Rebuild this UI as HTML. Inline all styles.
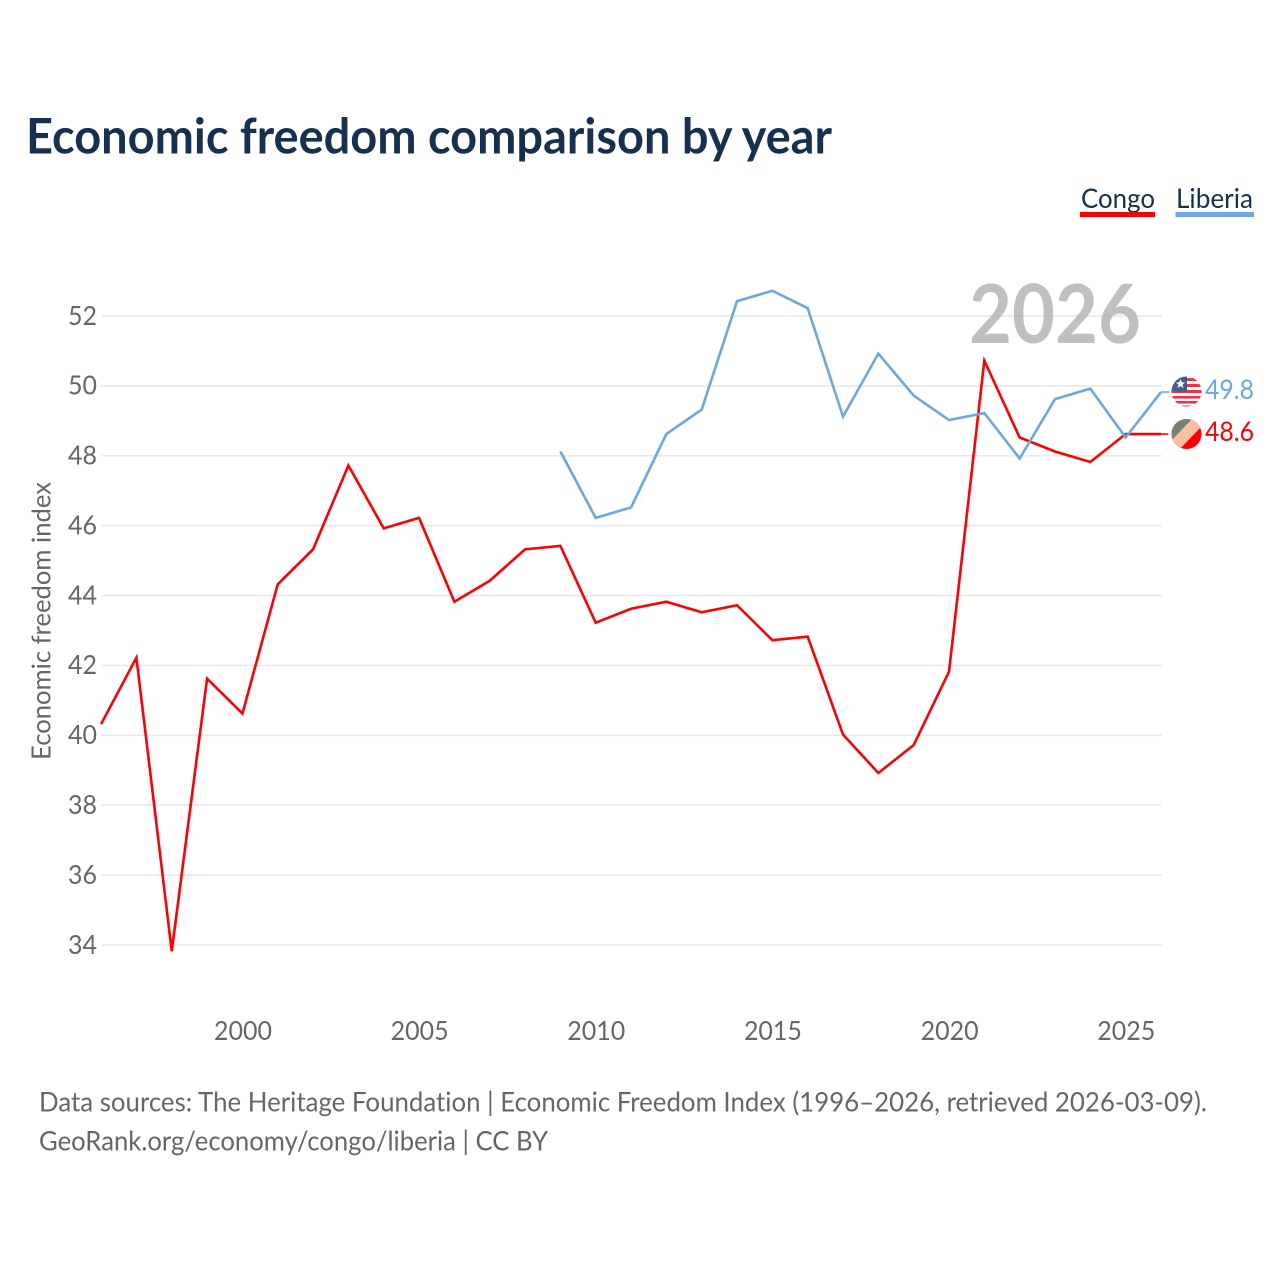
<!DOCTYPE html>
<html lang="en">
<head>
<meta charset="utf-8">
<title>Economic freedom comparison by year</title>
<style>
html,body{margin:0;padding:0;background:#fff;width:1280px;height:1280px;overflow:hidden}
svg{display:block}
text{font-family:Lato,Carlito,"Liberation Sans",sans-serif;font-variant-ligatures:none}
</style>
</head>
<body>
<svg id="chart" xmlns="http://www.w3.org/2000/svg" width="1280" height="1280" viewBox="0 0 1280 1280">
  <defs>
    <clipPath id="flag-liberia-clip"><circle cx="1186.5" cy="391.5" r="15"/></clipPath>
    <clipPath id="flag-congo-clip"><circle cx="1186.5" cy="434" r="15"/></clipPath>
  </defs>
  <text x="26" y="153.5" font-size="49" font-weight="700" fill="#18304f" textLength="806" lengthAdjust="spacingAndGlyphs">Economic freedom comparison by year</text>
  <g>
    <g>
      <text x="1081" y="208" font-size="27" fill="#18304f" textLength="74" lengthAdjust="spacingAndGlyphs">Congo</text>
      <rect x="1080" y="212" width="75" height="5" fill="#ff0000"/>
    </g>
    <g>
      <text x="1176" y="208" font-size="27" fill="#18304f" textLength="77" lengthAdjust="spacingAndGlyphs">Liberia</text>
      <rect x="1175.5" y="212" width="78.5" height="5" fill="#6fa8e8"/>
    </g>
  </g>
  <g id="grid"></g>
  <g id="yticks"></g>
  <g id="xticks"></g>
  <text transform="translate(50.5,760) rotate(-90)" x="0" y="0" font-size="26.5" fill="#666666" textLength="278" lengthAdjust="spacingAndGlyphs">Economic freedom index</text>
  <text x="969" y="343" font-size="81" font-weight="700" fill="#a6a8a8" fill-opacity="0.72" textLength="172" lengthAdjust="spacingAndGlyphs">2026</text>
  <g id="series" transform="translate(-0.6,-0.8)"></g>
  <g clip-path="url(#flag-liberia-clip)">
    <rect x="1171" y="376" width="31" height="31" fill="#ffffff"/>
    <rect x="1171" y="378" width="31" height="3" fill="#ef3340"/>
    <rect x="1171" y="384" width="31" height="3" fill="#ef3340"/>
    <rect x="1171" y="390" width="31" height="3" fill="#ef3340"/>
    <rect x="1171" y="396" width="31" height="2.6" fill="#ef3340"/>
    <rect x="1171" y="401" width="31" height="2.6" fill="#ef3340"/>
    <rect x="1171" y="405.5" width="31" height="2" fill="#ef3340"/>
    <rect x="1171" y="376" width="16" height="15.5" fill="#3f5f8f"/>
    <polygon points="1180.5,379 1181.8,382.4 1185.2,382.4 1182.5,384.6 1183.5,388 1180.5,386 1177.5,388 1178.5,384.6 1175.8,382.4 1179.2,382.4" fill="#ffffff"/>
  </g>
  <g clip-path="url(#flag-congo-clip)">
    <rect x="1171" y="418" width="31" height="32" fill="#ff0000"/>
    <polygon points="1171,418 1202,418 1202,426 1179,450 1171,450" fill="#fdbfa3"/>
    <polygon points="1171,418 1193,418 1171,441" fill="#7b8073"/>
  </g>
  <g id="endlabels"></g>
  <g>
    <text x="39" y="1111.5" font-size="27" fill="#666666" textLength="1168" lengthAdjust="spacingAndGlyphs">Data sources: The Heritage Foundation | Economic Freedom Index (1996–2026, retrieved 2026-03-09).</text>
    <text x="39" y="1150.5" font-size="27" fill="#666666" textLength="509" lengthAdjust="spacingAndGlyphs">GeoRank.org/economy/congo/liberia | CC BY</text>
  </g>
</svg>
<script>
const congoYears = [1996,1997,1998,1999,2000,2001,2002,2003,2004,2005,2006,2007,2008,2009,2010,2011,2012,2013,2014,2015,2016,2017,2018,2019,2020,2021,2022,2023,2024,2025,2026];
const congoValues = [40.3,42.2,33.8,41.6,40.6,44.3,45.3,47.7,45.9,46.2,43.8,44.4,45.3,45.4,43.2,43.6,43.8,43.5,43.7,42.7,42.8,40.0,38.9,39.7,41.8,50.7,48.5,48.1,47.8,48.6,48.6];
const liberiaYears = [2009,2010,2011,2012,2013,2014,2015,2016,2017,2018,2019,2020,2021,2022,2023,2024,2025,2026];
const liberiaValues = [48.1,46.2,46.5,48.6,49.3,52.4,52.7,52.2,49.1,50.9,49.7,49.0,49.2,47.9,49.6,49.9,48.5,49.8];
const yTickValues = [34,36,38,40,42,44,46,48,50,52];
const xTickValues = [2000,2005,2010,2015,2020,2025];

const NS = 'http://www.w3.org/2000/svg';
const xScale = function (year) { return 243 + (year - 2000) * 35.33; };
const yScale = function (value) { return 945 - (value - 34) * 34.944; };
const plotLeft = xScale(1996);
const plotRight = xScale(2026);

function make(tag, parentId, attrs, content) {
  const el = document.createElementNS(NS, tag);
  Object.keys(attrs).forEach(function (k) { el.setAttribute(k, attrs[k]); });
  if (content !== undefined) el.textContent = content;
  document.getElementById(parentId).appendChild(el);
  return el;
}

yTickValues.forEach(function (v) {
  const line = make('line', 'grid', {x1: plotLeft, x2: plotRight, y1: yScale(v), y2: yScale(v), stroke: '#e9e9e9', 'stroke-width': 1.6});
  
  
  const label = make('text', 'yticks', {x: 97, y: yScale(v) + 8.8, 'text-anchor': 'end', 'font-size': 26.5, fill: '#666666', textLength: 29, lengthAdjust: 'spacingAndGlyphs'}, String(v));
  
  
});

xTickValues.forEach(function (year) {
  const label = make('text', 'xticks', {x: xScale(year), y: 1040, 'text-anchor': 'middle', 'font-size': 26.5, fill: '#666666', textLength: 58, lengthAdjust: 'spacingAndGlyphs'}, String(year));
  
  
});

function linePoints(years, values) {
  return years.map(function (year, i) { return xScale(year).toFixed(2) + ',' + yScale(values[i]).toFixed(2); }).join(' ');
}

const congoLine = make('polyline', 'series', {points: linePoints(congoYears, congoValues), fill: 'none', stroke: '#ff0000', 'stroke-width': 2.6, 'stroke-linejoin': 'miter'});


const liberiaLine = make('polyline', 'series', {points: linePoints(liberiaYears, liberiaValues), fill: 'none', stroke: '#6ba6e8', 'stroke-width': 2.6, 'stroke-linejoin': 'miter'});



const congoLast = congoValues[congoValues.length - 1];
const liberiaLast = liberiaValues[liberiaValues.length - 1];

const congoConnector = make('line', 'series', {x1: plotRight, x2: 1169, y1: yScale(congoLast), y2: yScale(congoLast), stroke: '#ff0000', 'stroke-width': 2, 'stroke-opacity': 0.8});


const liberiaConnector = make('line', 'series', {x1: plotRight, x2: 1170, y1: yScale(liberiaLast), y2: yScale(liberiaLast), stroke: '#6ba6e8', 'stroke-width': 2, 'stroke-opacity': 0.8});



const liberiaEnd = make('text', 'endlabels', {x: 1205, y: yScale(liberiaLast) + 6.3, 'font-size': 27.5, fill: '#6ba6e8', textLength: 49, lengthAdjust: 'spacingAndGlyphs'}, liberiaLast.toFixed(1));


const congoEnd = make('text', 'endlabels', {x: 1205, y: yScale(congoLast) + 6.3, 'font-size': 27.5, fill: '#ff0000', textLength: 49, lengthAdjust: 'spacingAndGlyphs'}, congoLast.toFixed(1));


</script>
</body>
</html>
